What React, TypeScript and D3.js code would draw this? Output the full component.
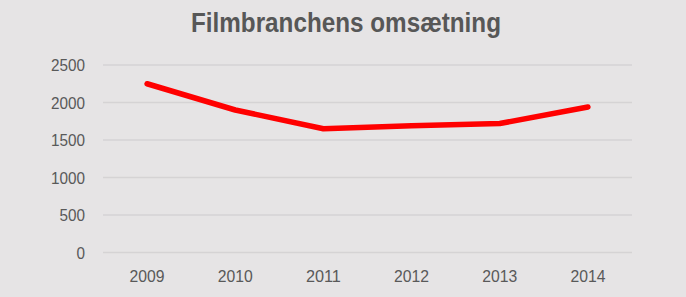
import React from "react";
import * as d3 from "d3";

const categories = ["2009", "2010", "2011", "2012", "2013", "2014"];
const values = [2250, 1900, 1650, 1690, 1720, 1940];
const yTicks = [0, 500, 1000, 1500, 2000, 2500];
const title = "Filmbranchens omsætning";

const W = 686;
const H = 297;

export default function App() {
  const x = d3.scaleBand<string>().domain(categories).range([103, 632]);
  const y = d3.scaleLinear().domain([0, 2500]).range([252.5, 65]);
  const line = d3
    .line<number>()
    .x((_, i) => (x(categories[i]) as number) + x.bandwidth() / 2)
    .y((d) => y(d));
  const font = "'Liberation Sans', Arial, sans-serif";
  return (
    <div style={{ position: "fixed", left: 0, top: 0 }}>
      <svg width={W} height={H} style={{ display: "block" }}>
        <rect width={W} height={H} fill="#e6e4e5" />
        <text
          x={346}
          y={31.7}
          textAnchor="middle"
          fontFamily={font}
          fontWeight="bold"
          fontSize={27.5}
          fill="#575757"
          textLength={310}
          lengthAdjust="spacingAndGlyphs"
        >
          {title}
        </text>
        {yTicks.map((t) => (
          <g key={t}>
            <line x1={103} x2={632} y1={y(t)} y2={y(t)} stroke="#d5d3d4" strokeWidth={1.5} />
            <text
              x={85}
              y={y(t) + 6}
              textAnchor="end"
              fontFamily={font}
              fontSize={17}
              fill="#595959"
              textLength={String(t).length * 8.5}
              lengthAdjust="spacingAndGlyphs"
            >
              {t}
            </text>
          </g>
        ))}
        {categories.map((c) => (
          <text
            key={c}
            x={(x(c) as number) + x.bandwidth() / 2}
            y={281.7}
            textAnchor="middle"
            fontFamily={font}
            fontSize={17}
            fill="#595959"
            textLength={35}
            lengthAdjust="spacingAndGlyphs"
          >
            {c}
          </text>
        ))}
        <path
          d={line(values) || ""}
          fill="none"
          stroke="#ff0000"
          strokeWidth={5.5}
          strokeLinecap="round"
          strokeLinejoin="round"
        />
      </svg>
    </div>
  );
}
